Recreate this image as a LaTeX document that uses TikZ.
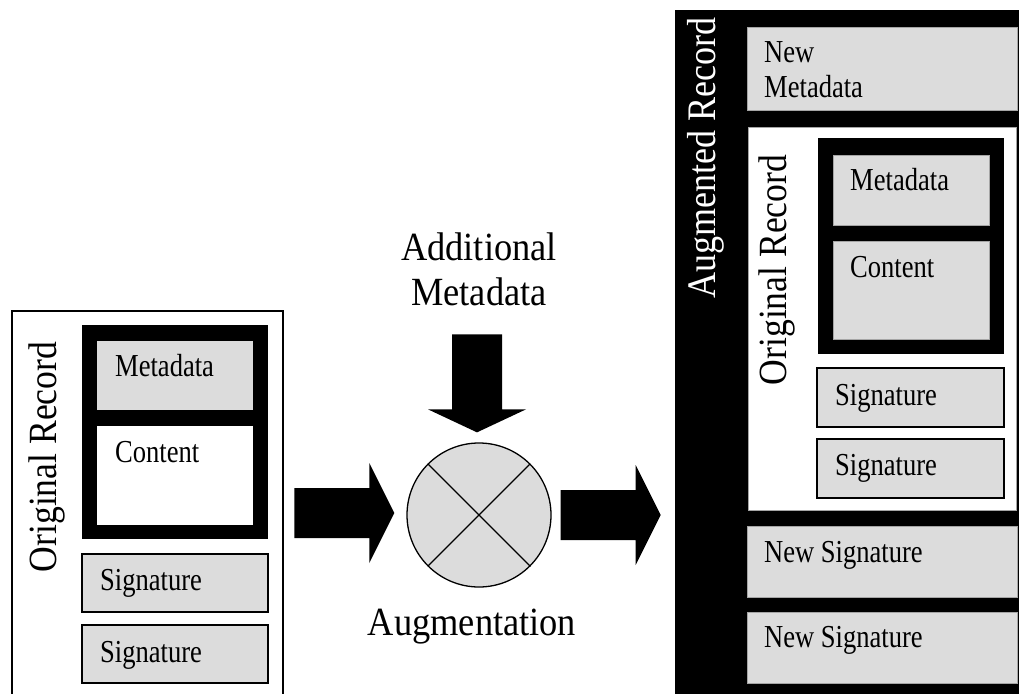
\documentclass[tikz,border=0pt]{standalone}
\usepackage{fontspec}
\setmainfont{Liberation Serif}
\newfontfamily\lblfont[FakeStretch=0.83]{Liberation Serif}
\newfontfamily\titlefont[FakeStretch=0.89]{Liberation Serif}
\newfontfamily\bigfont[FakeStretch=0.91]{Liberation Serif}
\usetikzlibrary{positioning,calc}
\definecolor{boxgray}{RGB}{220,220,220}
\definecolor{edgegray}{RGB}{165,165,165}

\begin{document}
\begin{tikzpicture}[x=1pt,y=-1pt,
  box/.style={rectangle, inner sep=0pt, outer sep=0pt, anchor=north west},
  gbox/.style={box, fill=boxgray, draw=edgegray, line width=0.8pt},
  sigbox/.style={box, fill=boxgray, draw=black, line width=1.3pt},
  blk/.style={box, fill=black},
  lbl/.style={inner sep=0pt, anchor=base west, font=\lblfont\fontsize{32}{35}\selectfont},
  title/.style={inner sep=0pt, rotate=90, font=\titlefont\fontsize{40}{44}\selectfont},
  big/.style={inner sep=0pt, align=center, font=\bigfont\fontsize{40}{45}\selectfont}]
  \useasboundingbox (0,0) rectangle (1019,693);
  \clip (0,0) rectangle (1019,693);

  \node[box, fill=white, draw=black, line width=1.2pt,
    minimum width=271pt, minimum height=400pt] (lrec) at (12,311) {};
  \node[title] (ltitle) at (47,457) {Original Record};
  \node[blk, minimum width=186pt, minimum height=214pt] (lcore) at (82,325) {};
  \node[gbox, draw=none, minimum width=156pt, minimum height=69pt] (lmeta) at (97,341) {};
  \node[box, fill=white, minimum width=156pt, minimum height=99pt] (lcont) at (97,426) {};
  \node[sigbox, minimum width=186pt, minimum height=58pt] (lsig1) at (82,554) {};
  \node[sigbox, minimum width=186pt, minimum height=58pt] (lsig2) at (82,625) {};
  \node[lbl] (lmetatxt) at ($(lmeta.north west)+(18,35)$) {Metadata};
  \node[lbl] (lconttxt) at ($(lcont.north west)+(18,36)$) {Content};
  \node[lbl] (lsig1txt) at ($(lsig1.north west)+(18,36)$) {Signature};
  \node[lbl] (lsig2txt) at ($(lsig2.north west)+(18,37)$) {Signature};

  \node[circle, fill=boxgray, draw=black, line width=1.3pt,
    minimum size=144pt, inner sep=0pt] (aug) at (479,515) {};
  \draw[line width=1.3pt]
    (aug.45) -- (aug.225)
    (aug.135) -- (aug.315);
  \node[big] (addtxt) at (479,269) {Additional\\Metadata};
  \node[big, anchor=base] (augtxt) at (472,635) {Augmentation};

  \coordinate (inL) at ($(aug.west)+(-112,-2)$);
  \coordinate (inT) at ($(aug.north)+(-2,-108)$);
  \coordinate (outL) at ($(aug.east)+(9,0)$);
  \fill (inL) ++(0,-25) -- ++(75,0) -- ++(0,-25) -- ++(25,50)
    -- ++(-25,50) -- ++(0,-25) -- ++(-75,0) -- cycle;
  \fill (inT) ++(-25,0) -- ++(0,75) -- ++(-24,0) -- ++(49,23)
    -- ++(49,-23) -- ++(-24,0) -- ++(0,-75) -- cycle;
  \fill (outL) ++(0,-25) -- ++(75,0) -- ++(0,-25) -- ++(25,50)
    -- ++(-25,50) -- ++(0,-25) -- ++(-75,0) -- cycle;

  \node[blk, minimum width=350pt, minimum height=690pt] (arec) at (675,10) {};
  \node[title, text=white, font=\titlefont\fontsize{40.5}{44}\selectfont] (atitle) at (706,158) {Augmented Record};
  \node[gbox, minimum width=270pt, minimum height=83pt] (nmeta) at (747,27) {};
  \node[lbl, anchor=north west, align=left] (nmetatxt) at ($(nmeta.north west)+(17,14)$) {New\\Metadata};
  \node[box, fill=white, draw=edgegray, line width=0.8pt,
    minimum width=268pt, minimum height=383pt] (rrec) at (748,127) {};
  \node[title] (rtitle) at (777,270) {Original Record};
  \node[blk, minimum width=186pt, minimum height=216pt] (rcore) at (818,138) {};
  \node[gbox, minimum width=156pt, minimum height=70pt] (rmeta) at (833,155) {};
  \node[gbox, minimum width=156pt, minimum height=98pt] (rcont) at (833,241) {};
  \node[sigbox, minimum width=187pt, minimum height=59pt] (rsig1) at (817,368) {};
  \node[sigbox, minimum width=187pt, minimum height=59pt] (rsig2) at (817,439) {};
  \node[gbox, minimum width=270pt, minimum height=71pt] (nsig1) at (747,526) {};
  \node[gbox, minimum width=270pt, minimum height=71pt] (nsig2) at (747,612) {};
  \node[lbl] (rmetatxt) at ($(rmeta.north west)+(17,35)$) {Metadata};
  \node[lbl] (rconttxt) at ($(rcont.north west)+(17,36)$) {Content};
  \node[lbl] (rsig1txt) at ($(rsig1.north west)+(18,37)$) {Signature};
  \node[lbl] (rsig2txt) at ($(rsig2.north west)+(18,36)$) {Signature};
  \node[lbl] (nsig1txt) at ($(nsig1.north west)+(17,36)$) {New Signature};
  \node[lbl] (nsig2txt) at ($(nsig2.north west)+(17,35)$) {New Signature};
\end{tikzpicture}
\end{document}
